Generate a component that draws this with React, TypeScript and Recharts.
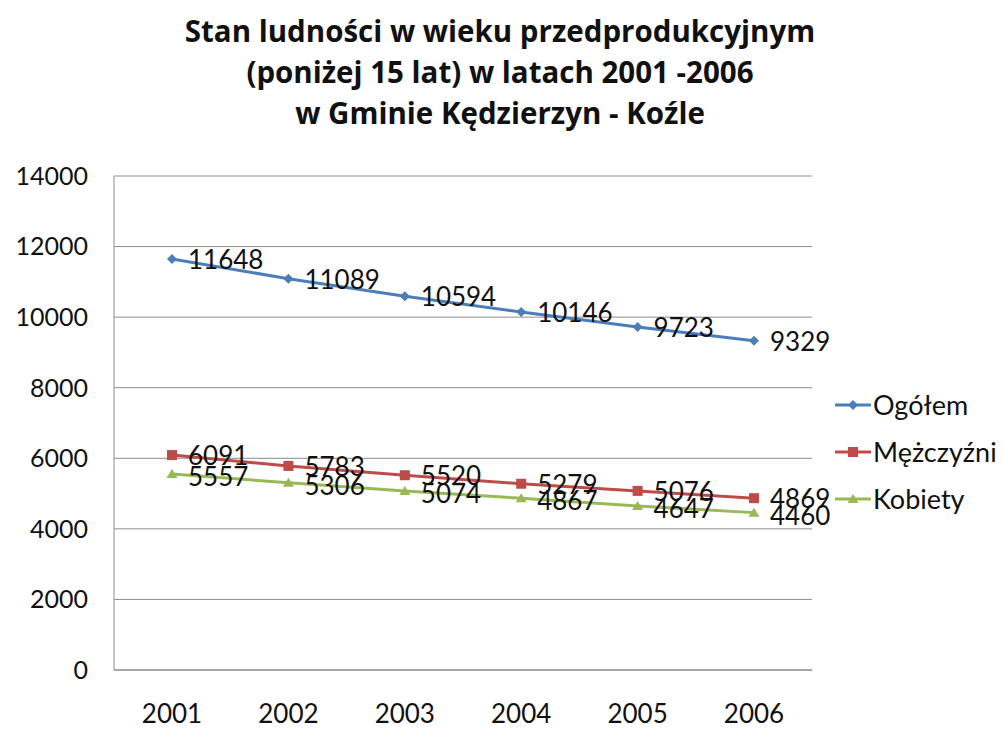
import { LineChart, Line, XAxis, YAxis, CartesianGrid, LabelList } from "recharts";

const years = ['2001', '2002', '2003', '2004', '2005', '2006'];
const ogolem = [11648, 11089, 10594, 10146, 9723, 9329];
const mezczyzni = [6091, 5783, 5520, 5279, 5076, 4869];
const kobiety = [5557, 5306, 5074, 4867, 4647, 4460];
const yTicks = [0, 2000, 4000, 6000, 8000, 10000, 12000, 14000];

const data = years.map((y, i) => ({ year: y, ogolem: ogolem[i], mezczyzni: mezczyzni[i], kobiety: kobiety[i] }));

const FONT = 'Lato, "Open Sans", sans-serif';
const BLUE = '#4A7EBB';
const RED = '#BE4B48';
const GREEN = '#98B954';

function marker(shape: string, color: string, cx: number, cy: number, key?: any) {
  if (shape === 'diamond') {
    return <path key={key} d={`M${cx},${cy - 5} L${cx + 5},${cy} L${cx},${cy + 5} L${cx - 5},${cy} Z`} fill={color} />;
  }
  if (shape === 'square') {
    return <rect key={key} x={cx - 5} y={cy - 5} width={10} height={10} fill={color} />;
  }
  return <path key={key} d={`M${cx},${cy - 5} L${cx + 5.5},${cy + 4} L${cx - 5.5},${cy + 4} Z`} fill={color} />;
}

const makeDot = (shape: string, color: string) => (props: any) => marker(shape, color, props.cx, props.cy, props.index);

const label = (dy: number) => (props: any) => (
  <text x={props.x + 16} y={props.y + dy} fontSize={26} fontFamily={FONT} fill="#111">
    {props.value}
  </text>
);

const legendItems = [
  { name: 'Ogółem', color: BLUE, shape: 'diamond' },
  { name: 'Mężczyźni', color: RED, shape: 'square' },
  { name: 'Kobiety', color: GREEN, shape: 'triangle' },
];

function ChartLegend() {
  return (
    <svg width={170} height={150}>
      {legendItems.map((it, i) => {
        const y = 24 + i * 47;
        return (
          <g key={it.name}>
            <line x1={2} x2={38} y1={y} y2={y} stroke={it.color} strokeWidth={3} />
            {marker(it.shape, it.color, 20, y)}
            <text x={40} y={y + 10} fontSize={27} fontFamily={FONT} fill="#111">{it.name}</text>
          </g>
        );
      })}
    </svg>
  );
}

export default function App() {
  return (
    <div style={{ position: 'absolute', left: 0, top: 0, width: 1003, height: 729, background: '#fff' }}>
      <div style={{ position: 'absolute', left: 0, top: 10, width: 1000, textAlign: 'center', fontFamily: '"Open Sans", sans-serif', fontWeight: 700, fontSize: 29.5, lineHeight: '41px', color: '#111' }}>
        Stan ludności w wieku przedprodukcyjnym<br />
        (poniżej 15 lat) w latach 2001 -2006<br />
        w Gminie Kędzierzyn - Koźle
      </div>
      <LineChart width={1003} height={729} data={data} margin={{ top: 176, right: 191, bottom: 0, left: 0 }}>
        <CartesianGrid vertical={false} stroke="#8c8c8c" />
        <XAxis dataKey="year" height={59} tickLine={false} tickSize={0} tickMargin={35} stroke="#8c8c8c"
          padding={{ left: 58, right: 58 }} tick={{ fill: '#111', fontSize: 26, fontFamily: FONT }} />
        <YAxis domain={[0, 14000]} ticks={yTicks} width={114} tickLine={false} tickSize={0} tickMargin={26} stroke="#8c8c8c"
          tick={{ fill: '#111', fontSize: 25, fontFamily: FONT }} interval={0} />
        <Line dataKey="ogolem" stroke={BLUE} strokeWidth={3} dot={makeDot('diamond', BLUE)} isAnimationActive={false}>
          <LabelList dataKey="ogolem" content={label(10)} />
        </Line>
        <Line dataKey="mezczyzni" stroke={RED} strokeWidth={3} dot={makeDot('square', RED)} isAnimationActive={false}>
          <LabelList dataKey="mezczyzni" content={label(10)} />
        </Line>
        <Line dataKey="kobiety" stroke={GREEN} strokeWidth={3} dot={makeDot('triangle', GREEN)} isAnimationActive={false}>
          <LabelList dataKey="kobiety" content={label(12)} />
        </Line>
      </LineChart>
      <div style={{ position: 'absolute', left: 833, top: 381 }}>
        <ChartLegend />
      </div>
    </div>
  );
}
